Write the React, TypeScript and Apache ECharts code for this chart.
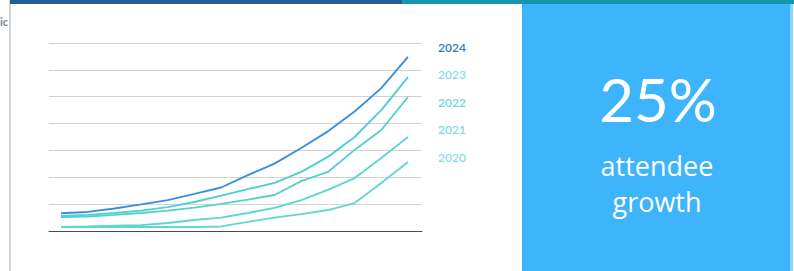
import React, { useEffect, useRef } from "react";
import * as echarts from "echarts";

// x positions (time steps) and attendee counts (hundreds) per year
const steps = [0, 1, 2, 3, 4, 5, 6, 7, 8, 9, 10, 11, 12, 13];
const years = ["2024", "2023", "2022", "2021", "2020"];
const values2024 = [66, 71, 84, 99, 115, 138, 162, 208, 251, 309, 371, 445, 532, 648];
const values2023 = [56, 60, 67, 76, 89, 108, 132, 156, 179, 220, 276, 350, 450, 573];
const values2022 = [52, 54, 60, 67, 76, 87, 101, 117, 134, 186, 220, 302, 376, 499];
const values2021 = [15, 17, 20, 22, 30, 41, 50, 67, 86, 115, 153, 197, 272, 350];
const values2020 = [15, 15, 15, 15, 15, 15, 17, 34, 50, 63, 78, 104, 179, 257];
const yTicks = [0, 100, 200, 300, 400, 500, 600, 700];
const headline = "25%";
const caption = "attendee\ngrowth";

const lineColors = ["#3a8fdc", "#4fcfcf", "#55d2c8", "#5dd6cc", "#62d6d2"];
const labelColors = ["#2f7dbf", "#86dede", "#72d6d6", "#82dada", "#8edcdc"];

export default function App() {
  const ref = useRef<HTMLDivElement>(null);
  useEffect(() => {
    if (!ref.current) return;
    const chart = echarts.init(ref.current, null, { renderer: "svg" });
    const seriesValues = [values2024, values2023, values2022, values2021, values2020];
    chart.setOption({
      animation: false,
      backgroundColor: "#ffffff",
      grid: { left: 49, right: 372, top: 43, bottom: 40, containLabel: false },
      xAxis: {
        type: "value",
        min: -0.45,
        max: 13.525,
        axisLine: { show: true, onZero: false, lineStyle: { color: "#4a4a4a", width: 1 } },
        axisTick: { show: false },
        axisLabel: { show: false },
        splitLine: { show: false },
      },
      yAxis: {
        type: "value",
        min: yTicks[0],
        max: yTicks[yTicks.length - 1],
        interval: 100,
        axisLine: { show: false },
        axisTick: { show: false },
        axisLabel: { show: false },
        splitLine: { show: true, lineStyle: { color: "#d2d2d2", width: 1 } },
      },
      legend: {
        orient: "vertical",
        left: 428,
        top: 35,
        icon: "none",
        itemWidth: 0,
        itemHeight: 14,
        itemGap: 14.6,
        selectedMode: false,
        textStyle: { fontFamily: "Lato", fontSize: 12, fontWeight: 600 },
        data: years.map((y, i) => ({ name: y, textStyle: { color: labelColors[i] } })),
      },
      series: years.map((y, i) => ({
        name: y,
        type: "line",
        symbol: "none",
        z: 10 - i,
        lineStyle: { color: lineColors[i], width: 1.9 },
        itemStyle: { color: lineColors[i] },
        data: steps.map((s, k) => [s, seriesValues[i][k]]),
      })),
      graphic: [
        { type: "rect", shape: { x: 9, y: 0, width: 2, height: 271 }, style: { fill: "#d4d4d4" } },
        { type: "text", x: 0, y: 21, style: { text: "ic", fill: "#6d8699", font: "bold 11px Lato", textAlign: "left", textVerticalAlign: "middle" } },
        { type: "rect", shape: { x: 10, y: 0, width: 392, height: 4 }, style: { fill: "#1f5c98" } },
        { type: "rect", shape: { x: 402, y: 0, width: 392, height: 4 }, style: { fill: "#1894b0" } },
        { type: "rect", shape: { x: 522, y: 4, width: 268, height: 267 }, style: { fill: "#3db4fb" } },
        { type: "rect", shape: { x: 790, y: 4, width: 3, height: 267 }, style: { fill: "#8fd2fa" } },
        {
          type: "text",
          x: 658,
          y: 99,
          style: { text: headline, fill: "#ffffff", font: "400 60px Lato", textAlign: "center", textVerticalAlign: "middle" },
        },
        {
          type: "text",
          x: 657,
          y: 183,
          style: {
            text: caption,
            fill: "#ffffff",
            font: "400 27px 'Open Sans'",
            lineHeight: 36,
            textAlign: "center",
            textVerticalAlign: "middle",
          },
        },
      ],
    });
    return () => chart.dispose();
  }, []);
  return (
    <div
      ref={ref}
      style={{ position: "fixed", left: 0, top: 0, width: 794, height: 271 }}
    />
  );
}
